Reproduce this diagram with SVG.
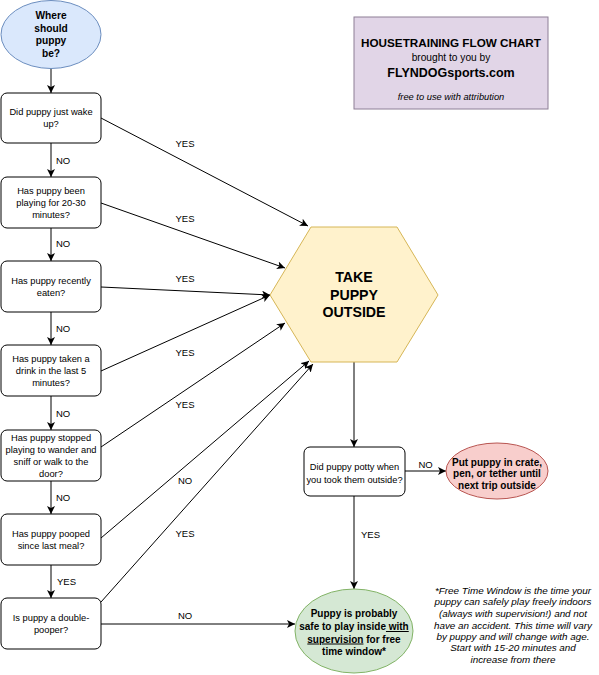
<svg xmlns="http://www.w3.org/2000/svg" width="599" height="675" viewBox="0 0 599 675">
<defs>
<marker id="arr" markerUnits="userSpaceOnUse" markerWidth="10" markerHeight="10" refX="8" refY="4" orient="auto">
<path d="M0,0 L8,4 L0,8 L2,4 z" fill="#000"/>
</marker>
<style>
text{font-family:"Liberation Sans",Arial,Helvetica,sans-serif;fill:#000;}
.q{font-size:9.3px;text-anchor:middle;}
.lbl{font-size:9.5px;}
.lblc{font-size:9.5px;text-anchor:middle;}
.box{fill:#fff;stroke:#000;stroke-width:1;}
.c{fill:none;stroke:#000;stroke-width:1;}
.ca{fill:none;stroke:#000;stroke-width:1;marker-end:url(#arr);}
.b{font-weight:bold;text-anchor:middle;}
</style>
</defs>
<rect width="599" height="675" fill="#fff"/>

<g id="connectors">
<line class="ca" x1="51" y1="68" x2="51" y2="93"/>
<line class="ca" x1="51" y1="143" x2="51" y2="177"/>
<line class="ca" x1="51" y1="228" x2="51" y2="261"/>
<line class="ca" x1="51" y1="312" x2="51" y2="345"/>
<line class="ca" x1="51" y1="396" x2="51" y2="430"/>
<line class="ca" x1="51" y1="481" x2="51" y2="514"/>
<line class="ca" x1="51" y1="565" x2="51" y2="598"/>
<line class="ca" x1="101" y1="118" x2="308" y2="226"/>
<line class="ca" x1="101" y1="203" x2="285" y2="268"/>
<line class="ca" x1="101" y1="287" x2="270" y2="295"/>
<line class="ca" x1="101" y1="371" x2="270" y2="295"/>
<line class="ca" x1="101" y1="447" x2="285" y2="323"/>
<line class="ca" x1="101" y1="538" x2="309" y2="361"/>
<line class="ca" x1="101" y1="602" x2="313" y2="364"/>
<line class="ca" x1="101" y1="624" x2="295" y2="624"/>
<line class="ca" x1="354" y1="362" x2="354" y2="447"/>
<line class="ca" x1="405" y1="471" x2="446" y2="471"/>
<line class="ca" x1="354" y1="496" x2="354" y2="589"/>
<text class="lbl" x="56" y="164">NO</text>
<text class="lbl" x="56" y="247">NO</text>
<text class="lbl" x="56" y="332">NO</text>
<text class="lbl" x="56" y="417">NO</text>
<text class="lbl" x="56" y="501">NO</text>
<text class="lbl" x="57" y="585">YES</text>
<text class="lblc" x="185" y="146.5">YES</text>
<text class="lblc" x="185" y="221.5">YES</text>
<text class="lblc" x="185" y="281.5">YES</text>
<text class="lblc" x="185" y="355.5">YES</text>
<text class="lblc" x="185" y="407.5">YES</text>
<text class="lblc" x="185" y="483.5">NO</text>
<text class="lblc" x="185" y="536.5">YES</text>
<text class="lblc" x="185" y="618.5">NO</text>
<text class="lblc" x="425.5" y="467.5">NO</text>
<text class="lblc" x="370.5" y="537.5">YES</text>
</g>

<g id="start">
<ellipse cx="51" cy="34.5" rx="50" ry="34" fill="#dae8fc" stroke="#6c8ebf"/>
<text class="b" font-size="10.2" x="51" y="19">Where</text>
<text class="b" font-size="10.2" x="51" y="31.5">should</text>
<text class="b" font-size="10.2" x="51" y="44">puppy</text>
<text class="b" font-size="10.2" x="51" y="56.5">be?</text>
</g>

<g id="q1">
<rect class="box" x="1" y="93" width="100" height="50" rx="6"/>
<text class="q" x="51" y="115">Did puppy just wake</text>
<text class="q" x="51" y="127">up?</text>
</g>
<g id="q2">
<rect class="box" x="1" y="177" width="100" height="51" rx="6"/>
<text class="q" x="51" y="194">Has puppy been</text>
<text class="q" x="51" y="206">playing for 20-30</text>
<text class="q" x="51" y="218">minutes?</text>
</g>
<g id="q3">
<rect class="box" x="1" y="261" width="100" height="51" rx="6"/>
<text class="q" x="51" y="283.5">Has puppy recently</text>
<text class="q" x="51" y="295.5">eaten?</text>
</g>
<g id="q4">
<rect class="box" x="1" y="345" width="100" height="51" rx="6"/>
<text class="q" x="51" y="362">Has puppy taken a</text>
<text class="q" x="51" y="374">drink in the last 5</text>
<text class="q" x="51" y="386">minutes?</text>
</g>
<g id="q5">
<rect class="box" x="1" y="430" width="100" height="51" rx="6"/>
<text class="q" x="51" y="440.5">Has puppy stopped</text>
<text class="q" x="51" y="452.5">playing to wander and</text>
<text class="q" x="51" y="464.5">sniff or walk to the</text>
<text class="q" x="51" y="476.5">door?</text>
</g>
<g id="q6">
<rect class="box" x="1" y="514" width="100" height="51" rx="6"/>
<text class="q" x="51" y="537">Has puppy pooped</text>
<text class="q" x="51" y="549">since last meal?</text>
</g>
<g id="q7">
<rect class="box" x="1" y="598" width="100" height="51" rx="6"/>
<text class="q" x="51" y="621">Is puppy a double-</text>
<text class="q" x="51" y="633">pooper?</text>
</g>

<g id="title">
<rect x="354" y="17" width="194" height="92" fill="#e1d5e7" stroke="#8d7f96"/>
<text class="b" font-size="11.7" x="451" y="47">HOUSETRAINING FLOW CHART</text>
<text font-size="10.2" text-anchor="middle" x="451" y="61">brought to you by</text>
<text class="b" font-size="12.5" x="451" y="77">FLYNDOGsports.com</text>
<text font-size="9.3" font-style="italic" text-anchor="middle" x="451" y="100">free to use with attribution</text>
</g>

<g id="take-outside">
<polygon points="311,227 397,227 438,295 397,362 311,362 270,295" fill="#fff2cc" stroke="#d6b656"/>
<text class="b" font-size="14.2" x="354" y="282">TAKE</text>
<text class="b" font-size="14.2" x="354" y="299.5">PUPPY</text>
<text class="b" font-size="14.2" x="354" y="317">OUTSIDE</text>
</g>

<g id="potty">
<rect class="box" x="304" y="447" width="101" height="49" rx="6"/>
<text class="q" x="354.5" y="470">Did puppy potty when</text>
<text class="q" x="354.5" y="483">you took them outside?</text>
</g>

<g id="crate">
<ellipse cx="497" cy="471" rx="51" ry="28" fill="#f8cecc" stroke="#b85450"/>
<text class="b" font-size="10" x="497" y="465.5">Put puppy in crate,</text>
<text class="b" font-size="10" x="497" y="477">pen, or tether until</text>
<text class="b" font-size="10" x="497" y="488.5">next trip outside</text>
</g>

<g id="safe">
<ellipse cx="354" cy="631" rx="59" ry="42" fill="#d5e8d4" stroke="#82b366"/>
<text class="b" font-size="10" x="354" y="617">Puppy is probably</text>
<text class="b" font-size="10" x="354" y="630">safe to play inside<tspan text-decoration="underline"> with</tspan></text>
<text class="b" font-size="10" x="354" y="642.5"><tspan text-decoration="underline">supervision</tspan> for free</text>
<text class="b" font-size="10" x="354" y="655">time window*</text>
</g>

<g id="footnote" font-size="9.9" font-style="italic" text-anchor="middle">
<text x="513" y="593.5">*Free Time Window is the time your</text>
<text x="513" y="605">puppy can safely play freely indoors</text>
<text x="513" y="617">(always with supervision!) and not</text>
<text x="513" y="628.5">have an accident. This time will vary</text>
<text x="513" y="640">by puppy and will change with age.</text>
<text x="513" y="651">Start with 15-20 minutes and</text>
<text x="513" y="663">increase from there</text>
</g>
</svg>
